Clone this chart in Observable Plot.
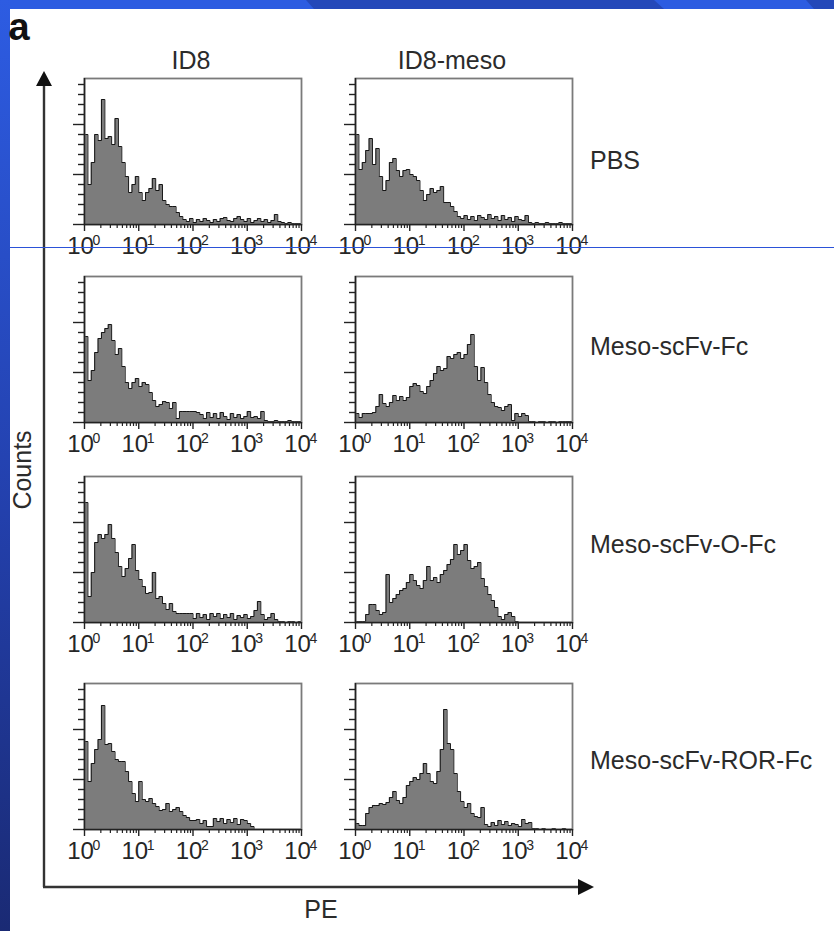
<!DOCTYPE html>
<html>
<head>
<meta charset="utf-8">
<script src="https://cdn.jsdelivr.net/npm/d3@7"></script>
<script src="https://cdn.jsdelivr.net/npm/@observablehq/plot@0.6"></script>
<style>
  html,body{margin:0;padding:0;background:#fff;}
  #page{position:relative;width:834px;height:931px;overflow:hidden;background:#fff;
        font-family:"Liberation Sans",Arial,Helvetica,sans-serif;color:#2b2b2b;}
  .lbl{position:absolute;white-space:nowrap;line-height:1;font-size:25px;}
  .panel{position:absolute;overflow:visible;}
</style>
</head>
<body>
<div id="page"></div>
<script>
// ---------------- data ----------------
const panelTag = "a";
const columnTitles = ["ID8", "ID8-meso"];
const rowTitles = ["PBS", "Meso-scFv-Fc", "Meso-scFv-O-Fc", "Meso-scFv-ROR-Fc"];
const xTitle = "PE";
const yTitle = "Counts";
const decadeExponents = [0, 1, 2, 3, 4];
const binsPerDecade = 16;            // 64 channels from 10^0 to 10^4
const countMax = 146;
const majorCountTicks = [0, 50, 100];
const minorCountTicks = [10, 20, 30, 40, 60, 70, 80, 90, 110, 120, 130, 140];

// counts per channel
const id8_PBS = [90,40,62,90,84,125,86,88,80,106, 78,62,48,32,40,48,32,24,32,36,
  46,34,40,24,20,18,18,12,8,5, 3,6,2,5,3,6,4,2,5,3, 6,7,4,3,6,8,5,3,6,2,
  4,6,3,5,2,4,10,3,2,1, 2,1,1,1];
const meso_PBS = [90,55,62,74,86,60,76,48,34,44, 62,66,54,48,54,55,50,48,44,34,
  24,30,36,32,34,38,22,22,18,13, 8,6,9,5,8,4,9,7,5,10, 6,8,4,9,5,7,3,8,5,4,
  9,2,1,2,1,1,2,1,1,1, 2,1,1,1];
const id8_Fc = [86,42,52,70,84,90,94,98,82,68, 74,56,40,34,40,44,36,40,38,30,
  22,16,18,21,20,14,20,4,11,11, 11,11,11,10,8,4,10,5,9,4, 10,6,3,9,5,8,4,6,11,5,
  6,4,11,2,1,1,2,1,1,1, 2,1,1,1];
const meso_Fc = [9,5,9,9,9,10,16,28,19,16, 20,27,22,26,22,25,36,39,37,31,
  29,36,42,49,56,52,54,66,64,68, 70,64,68,78,88,56,42,55,40,28,
  20,16,15,12,16,18,2,9,6,9, 7,1,1,0,1,1,0,1,1,0, 1,1,1,1];
const id8_OFc = [120,26,50,80,88,84,88,98,84,70, 56,46,54,64,78,52,43,36,29,30,
  50,24,26,19,13,19,11,9,9,9, 9,9,4,9,5,8,3,9,6,9, 4,8,5,9,3,7,5,8,4,6,
  12,21,8,3,5,9,3,1,1,0, 1,1,0,1];
const meso_OFc = [1,1,1,8,18,18,12,8,10,48, 20,24,28,32,34,40,48,42,37,34,
  42,56,42,45,40,48,52,58,63,78, 68,72,78,62,54,56,60,44,36,28,
  22,15,6,3,8,10,6,1,0,0, 0,0,0,0,0,0,0,0,0,0, 0,0,0,0];
const id8_ROR = [88,48,66,80,90,124,85,86,78,70, 68,68,58,48,36,28,48,30,28,31,
  26,23,19,20,26,18,20,22,18,14, 12,9,9,10,6,9,3,3,11,8, 11,6,10,7,11,5,10,9,6,3,
  0,0,0,0,0,0,0,0,0,0, 0,0,0,0];
const meso_ROR = [6,4,4,16,22,24,24,26,25,27, 32,38,29,26,32,44,48,52,50,56,
  66,56,48,46,58,80,120,86,80,56, 38,28,22,26,16,13,12,22,5,3,
  7,4,9,5,8,4,6,5,3,10, 6,7,1,1,0,1,0,0,1,0, 0,1,0,0];

const histograms = [
  [id8_PBS, meso_PBS],
  [id8_Fc, meso_Fc],
  [id8_OFc, meso_OFc],
  [id8_ROR, meso_ROR]
];

// ---------------- layout ----------------
const colLeft = [84, 355];
const rowTop = [78, 276, 476, 683];
const boxW = 217, boxH = 146;
const M = {l: 16, r: 22, t: 3, b: 46};
const FONT = '"Liberation Sans", Arial, Helvetica, sans-serif';
const NARROW = '"Liberation Sans Narrow", "Arial Narrow", "Liberation Sans", Arial, sans-serif';

const page = document.getElementById("page");

// slide background decoration (left strip, top bar, blue rule)
const deco = d3.select(page).append("svg")
  .attr("width", 834).attr("height", 931)
  .style("position", "absolute").style("left", 0).style("top", 0);
const grad = deco.append("defs").append("linearGradient")
  .attr("id", "strip").attr("x1", 0).attr("y1", 0).attr("x2", 0).attr("y2", 1);
grad.append("stop").attr("offset", "0%").attr("stop-color", "#2d5ce2");
grad.append("stop").attr("offset", "55%").attr("stop-color", "#2340ac");
grad.append("stop").attr("offset", "100%").attr("stop-color", "#1a2a74");
deco.append("rect").attr("x", 0).attr("y", 0).attr("width", 834).attr("height", 9).attr("fill", "#2c5ce1");
deco.append("polygon").attr("points", "306,0 654,0 664,9 314,9").attr("fill", "#2448b9");
deco.append("polygon").attr("points", "806,0 834,0 834,9 814,9").attr("fill", "#2448b9");
deco.append("rect").attr("x", 0).attr("y", 0).attr("width", 10).attr("height", 931).attr("fill", "url(#strip)");

function xTicksMinor() {
  const t = [];
  for (const d of decadeExponents.slice(0, -1)) for (let m = 2; m <= 9; m++) t.push(m * Math.pow(10, d));
  return t;
}

function panel(values) {
  const pts = values.map((v, k) => ({x: Math.pow(10, k / binsPerDecade), y: v}));
  pts.push({x: Math.pow(10, decadeExponents[decadeExponents.length - 1]), y: values[values.length - 1]});
  const decades = decadeExponents.map(e => Math.pow(10, e));
  return Plot.plot({
    width: boxW + M.l + M.r,
    height: boxH + M.t + M.b,
    marginLeft: M.l, marginRight: M.r, marginTop: M.t, marginBottom: M.b,
    style: {background: "transparent", overflow: "visible", fontFamily: FONT},
    x: {type: "log", domain: [decades[0], decades[decades.length - 1]], axis: null},
    y: {domain: [0, countMax], axis: null},
    marks: [
      Plot.areaY(pts, {x: "x", y: "y", curve: "step-after", fill: "#7c7c7c"}),
      Plot.lineY(pts, {x: "x", y: "y", curve: "step-after", stroke: "#151515", strokeWidth: 1}),
      Plot.frame({stroke: "#7a7a7a", strokeWidth: 1.8}),
      Plot.ruleX([decades[0]], {stroke: "#222", strokeWidth: 1.5}),
      Plot.ruleY([0], {stroke: "#222", strokeWidth: 1.5}),
      Plot.axisY({ticks: majorCountTicks, tickSize: 11, tickFormat: () => "", label: null, stroke: "#222", strokeWidth: 1.4}),
      Plot.axisY({ticks: minorCountTicks, tickSize: 6, tickFormat: () => "", label: null, stroke: "#222", strokeWidth: 1.4}),
      Plot.axisX({ticks: decades, tickSize: 7, tickFormat: () => "", label: null, stroke: "#222", strokeWidth: 1.4}),
      Plot.axisX({ticks: xTicksMinor(), tickSize: 4, tickFormat: () => "", label: null, stroke: "#222", strokeWidth: 1.2}),
      Plot.text(decadeExponents, {x: e => Math.pow(10, e), frameAnchor: "bottom", text: () => "10",
        dx: -4, dy: 29, fontSize: 24, fontFamily: NARROW, fill: "#262626"}),
      Plot.text(decadeExponents, {x: e => Math.pow(10, e), frameAnchor: "bottom", text: e => String(e),
        textAnchor: "start", dx: 8, dy: 20, fontSize: 14, fontFamily: NARROW, fill: "#262626"})
    ]
  });
}

histograms.forEach((row, r) => {
  row.forEach((values, c) => {
    const svg = panel(values);
    svg.classList.add("panel");
    svg.style.left = (colLeft[c] - M.l) + "px";
    svg.style.top = (rowTop[r] - M.t) + "px";
    page.appendChild(svg);
  });
});

// text labels
function label(text, x, y, opts = {}) {
  const d = document.createElement("div");
  d.className = "lbl";
  d.textContent = text;
  d.style.left = x + "px";
  d.style.top = y + "px";
  d.style.transform = opts.transform || "translate(-50%,-50%)";
  if (opts.size) d.style.fontSize = opts.size + "px";
  if (opts.weight) d.style.fontWeight = opts.weight;
  if (opts.family) d.style.fontFamily = opts.family;
  if (opts.color) d.style.color = opts.color;
  page.appendChild(d);
  return d;
}
label(panelTag, 19, 27, {size: 38, weight: "bold", family: NARROW, color: "#111"});
label(columnTitles[0], 191, 60, {size: 25});
label(columnTitles[1], 452, 60, {size: 25});
const rowLabelY = [160, 346, 544, 760];
rowTitles.forEach((t, i) => label(t, 590, rowLabelY[i], {size: 25, transform: "translate(0,-50%)"}));
label(yTitle, 22, 470, {size: 25, transform: "translate(-50%,-50%) rotate(-90deg)"});
label(xTitle, 321, 909, {size: 25});

// big axis arrows
const arr = d3.select(page).append("svg")
  .attr("width", 834).attr("height", 931)
  .style("position", "absolute").style("left", 0).style("top", 0)
  .style("pointer-events", "none");
arr.append("path").attr("d", "M44,887 L44,84").attr("stroke", "#333").attr("stroke-width", 2.4).attr("fill", "none");
arr.append("path").attr("d", "M43,887 L580,887").attr("stroke", "#333").attr("stroke-width", 2.4).attr("fill", "none");
arr.append("polygon").attr("points", "44,71 36,86 52,86").attr("fill", "#111");
arr.append("polygon").attr("points", "594,887 578,879 578,895").attr("fill", "#111");
// thin blue slide rule across the page
arr.append("line").attr("x1", 10).attr("x2", 834).attr("y1", 247.5).attr("y2", 247.5)
  .attr("stroke", "#2b52d8").attr("stroke-width", 1);
</script>
</body>
</html>
